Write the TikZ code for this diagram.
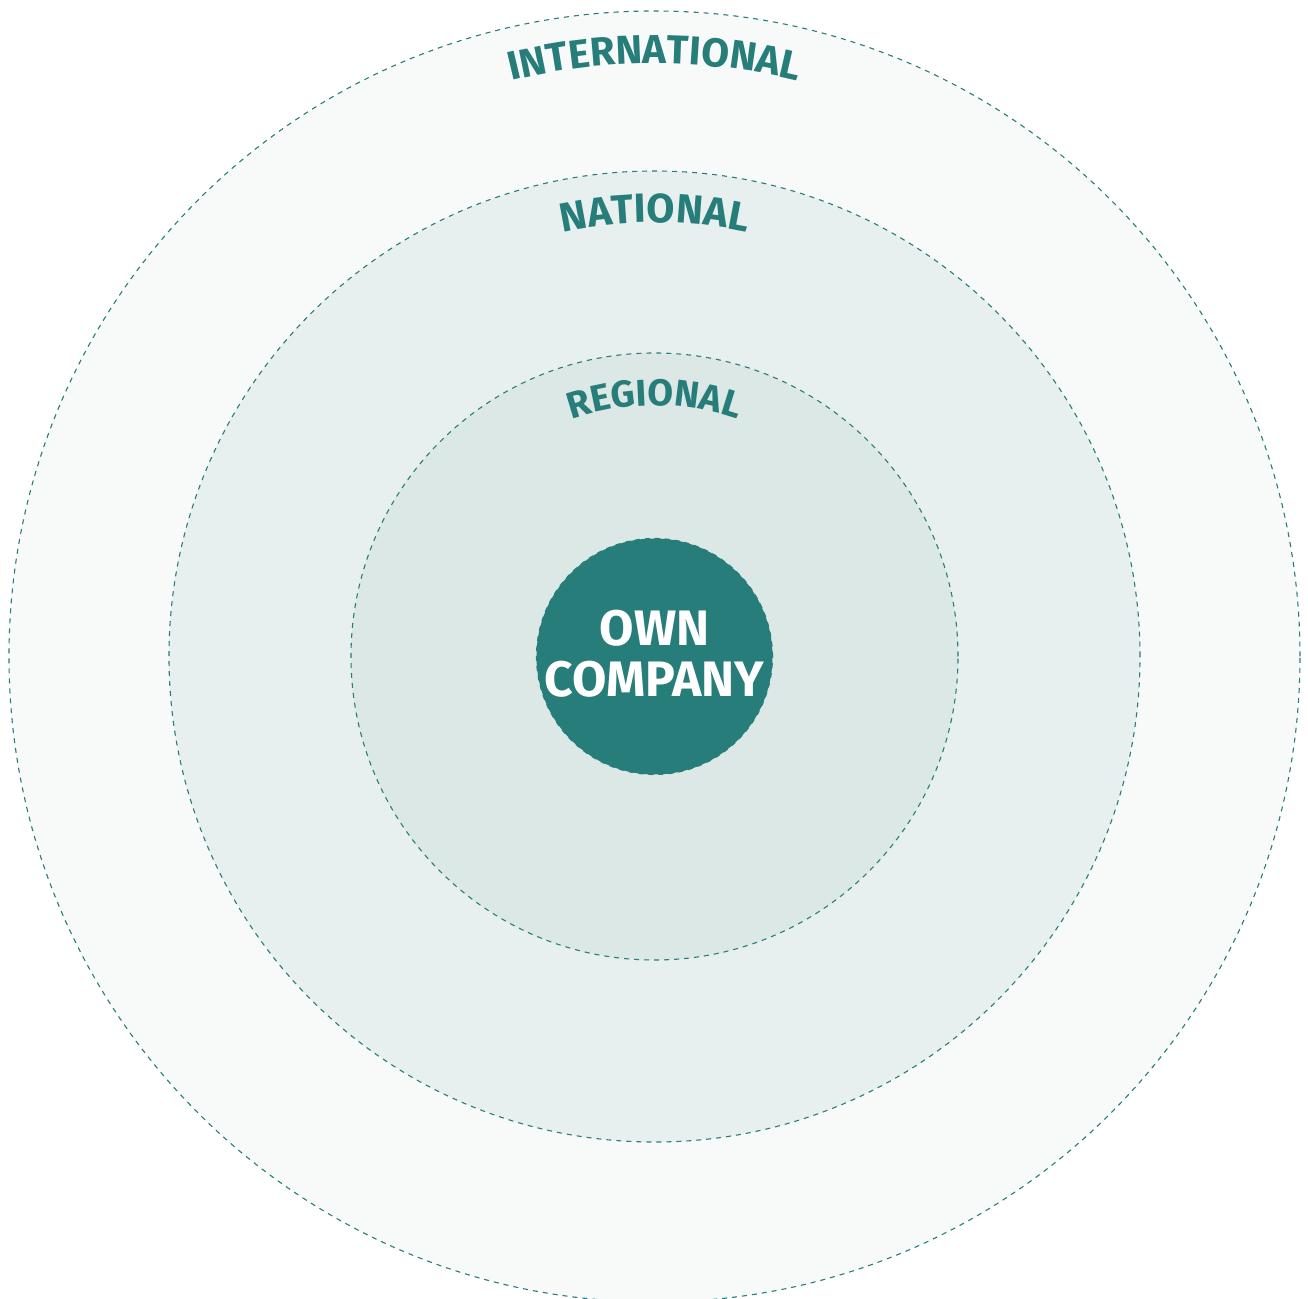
\documentclass[tikz,border=0pt]{standalone}
\usepackage{fontspec}
\setmainfont{Fira Sans}
\usetikzlibrary{decorations.text}
\definecolor{teal1}{HTML}{267D7A}
\definecolor{fillA}{HTML}{F7FAF9}
\definecolor{fillB}{HTML}{E7F0EE}
\definecolor{fillC}{HTML}{DCE8E5}
\tikzset{
  ring/.style={circle, draw=teal1, line width=1.1bp, dash pattern=on 5bp off 5bp, inner sep=0pt},
  arclabel/.style={decorate, decoration={text along path, text align=center, text color=teal1, text={#1}}}
}
\begin{document}
\begin{tikzpicture}[x=1bp,y=1bp]
\useasboundingbox[fill=white] (-654.5,-642.5) rectangle (653.5,656.5);
\node[ring, fill=fillA, minimum size=1291bp] (intl) at (0,0) {};
\node[ring, fill=fillB, minimum size=971bp] (natl) at (0,0) {};
\node[ring, fill=fillC, minimum size=607bp] (regl) at (0,0) {};
\node[circle, draw=teal1, line width=1.1bp, dash pattern=on 5bp off 5bp, fill=teal1,
      minimum size=236bp, inner sep=0pt] (own) at (0,0) {};
\node[text=white, align=center, inner sep=0pt,
      font=\fontsize{50}{51}\selectfont\bfseries] (ownlabel) at (0,3) {OWN\\COMPANY};
\path[arclabel={|\fontsize{40.5}{40}\selectfont\bfseries|INTERNATIONAL}]
  (180:593bp) arc[start angle=180, end angle=0, radius=593bp];
\path[arclabel={|\fontsize{41}{40}\selectfont\bfseries|NATIONAL}]
  (180:434bp) arc[start angle=180, end angle=0, radius=434bp];
\path[arclabel={|\fontsize{37.5}{36}\selectfont\bfseries|REGIONAL}]
  (180:251bp) arc[start angle=180, end angle=0, radius=251bp];
\end{tikzpicture}
\end{document}
